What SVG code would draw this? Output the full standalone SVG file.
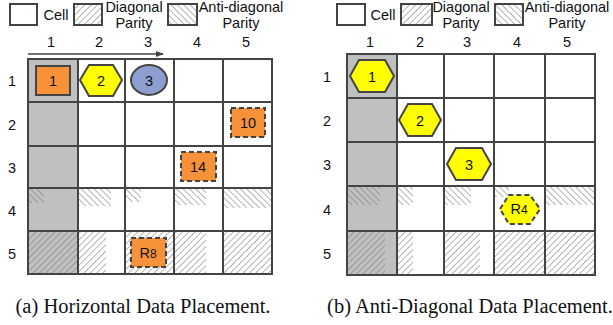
<svg xmlns="http://www.w3.org/2000/svg" width="613" height="325" viewBox="0 0 613 325">
<style>
.t{font-family:"Liberation Sans",Arial,sans-serif;font-size:14.5px;fill:#111;text-anchor:middle}
.n{font-family:"Liberation Sans",Arial,sans-serif;font-size:14.5px;fill:#111;text-anchor:middle}
.cap{font-family:"Liberation Serif","Times New Roman",serif;font-size:20.5px;fill:#111;text-anchor:middle}
.grid{fill:none;stroke:#444;stroke-width:2}
.cell{fill:#fff;stroke:#444;stroke-width:2}
.gray{fill:#c0c0c0}
.org{fill:#f7923a;stroke:#444;stroke-width:2}
.orgd{fill:#f7923a;stroke:#444;stroke-width:2;stroke-dasharray:5 3}
.hex{fill:#ffff00;stroke:#444;stroke-width:2}
.hexd{fill:#ffff00;stroke:#444;stroke-width:2;stroke-dasharray:5 3}
.dp{fill:url(#diag)}
.ap{fill:url(#anti)}
</style>
<defs>
<pattern id="diag" patternUnits="userSpaceOnUse" width="4.5" height="5" patternTransform="rotate(45)">
<line x1="0" y1="0" x2="0" y2="5" stroke="#777" stroke-width="1.1"/>
</pattern>
<pattern id="anti" patternUnits="userSpaceOnUse" width="4.5" height="5" patternTransform="rotate(-45)">
<line x1="0" y1="0" x2="0" y2="5" stroke="#777" stroke-width="1.1"/>
</pattern>
<marker id="arr" markerWidth="8" markerHeight="8" refX="7" refY="4" orient="auto" markerUnits="userSpaceOnUse">
<path d="M0,1 L8,4 L0,7 z" fill="#444"/>
</marker>
</defs>

<!-- Legend left -->
<g id="legend-a">
<rect x="10" y="4" width="27" height="21" class="cell"/>
<text x="56" y="20" class="t">Cell</text>
<rect x="74" y="4" width="28" height="21" fill="#fff"/>
<rect x="74" y="4" width="28" height="21" class="dp"/>
<rect x="74" y="4" width="28" height="21" class="grid"/>
<text x="134" y="12" class="t">Diagonal</text>
<text x="134" y="28" class="t">Parity</text>
<rect x="168" y="4" width="29" height="21" fill="#fff"/>
<rect x="168" y="4" width="29" height="21" class="ap"/>
<rect x="168" y="4" width="29" height="21" class="grid"/>
<text x="241" y="12" class="t">Anti-diagonal</text>
<text x="241" y="28" class="t">Parity</text>
</g>

<!-- Legend right -->
<g id="legend-b">
<rect x="337" y="4" width="28" height="21" class="cell"/>
<text x="383" y="20" class="t">Cell</text>
<rect x="401" y="4" width="31" height="21" fill="#fff"/>
<rect x="401" y="4" width="31" height="21" class="dp"/>
<rect x="401" y="4" width="31" height="21" class="grid"/>
<text x="461" y="12" class="t">Diagonal</text>
<text x="461" y="28" class="t">Parity</text>
<rect x="495" y="4" width="28" height="21" fill="#fff"/>
<rect x="495" y="4" width="28" height="21" class="ap"/>
<rect x="495" y="4" width="28" height="21" class="grid"/>
<text x="567" y="12" class="t">Anti-diagonal</text>
<text x="567" y="28" class="t">Parity</text>
</g>

<!-- Grid A -->
<g id="grid-a">
<rect x="28" y="59" width="244" height="215" fill="#fff"/>
<rect x="28" y="59" width="50" height="215" class="gray"/>
<rect x="29" y="189" width="15" height="14" class="ap"/>
<rect x="79" y="189" width="32" height="17" class="ap"/>
<rect x="126" y="189" width="15" height="13" class="ap"/>
<rect x="175" y="189" width="31" height="16" class="ap"/>
<rect x="224" y="189" width="47" height="19" class="ap"/>
<rect x="29" y="232" width="48" height="41" class="dp"/>
<rect x="79" y="232" width="27" height="41" class="dp"/>
<rect x="126" y="232" width="47" height="41" class="dp"/>
<rect x="175" y="232" width="31" height="41" class="dp"/>
<rect x="224" y="232" width="47" height="41" class="dp"/>
<g class="grid">
<rect x="28" y="59" width="244" height="215"/>
<line x1="78" y1="59" x2="78" y2="274"/>
<line x1="125" y1="59" x2="125" y2="274"/>
<line x1="174" y1="59" x2="174" y2="274"/>
<line x1="223" y1="59" x2="223" y2="274"/>
<line x1="28" y1="102" x2="272" y2="102"/>
<line x1="28" y1="146" x2="272" y2="146"/>
<line x1="28" y1="188" x2="272" y2="188"/>
<line x1="28" y1="231" x2="272" y2="231"/>
</g>
</g>

<!-- Grid B -->
<g id="grid-b">
<rect x="347" y="54" width="248" height="221" fill="#fff"/>
<rect x="347" y="54" width="50" height="221" class="gray"/>
<rect x="348" y="187" width="32" height="18" class="ap"/>
<rect x="398" y="187" width="15" height="18" class="ap"/>
<rect x="445" y="187" width="26" height="18" class="ap"/>
<rect x="495" y="187" width="14" height="10" class="ap"/>
<rect x="546" y="187" width="48" height="18" class="ap"/>
<rect x="348" y="232" width="37" height="42" class="dp"/>
<rect x="398" y="232" width="15" height="42" class="dp"/>
<rect x="445" y="232" width="35" height="42" class="dp"/>
<rect x="495" y="232" width="49" height="42" class="dp"/>
<rect x="546" y="232" width="48" height="42" class="dp"/>
<g class="grid">
<rect x="347" y="54" width="248" height="221"/>
<line x1="397" y1="54" x2="397" y2="275"/>
<line x1="444" y1="54" x2="444" y2="275"/>
<line x1="494" y1="54" x2="494" y2="275"/>
<line x1="545" y1="54" x2="545" y2="275"/>
<line x1="347" y1="98" x2="595" y2="98"/>
<line x1="347" y1="142" x2="595" y2="142"/>
<line x1="347" y1="186" x2="595" y2="186"/>
<line x1="347" y1="231" x2="595" y2="231"/>
</g>
</g>

<!-- Labels A -->
<g id="labels-a">
<text x="51" y="47" class="n">1</text>
<text x="99" y="47" class="n">2</text>
<text x="148" y="47" class="n">3</text>
<text x="197" y="47" class="n">4</text>
<text x="246" y="47" class="n">5</text>
<text x="12" y="86" class="n">1</text>
<text x="12" y="130" class="n">2</text>
<text x="12" y="173" class="n">3</text>
<text x="12" y="216" class="n">4</text>
<text x="12" y="259" class="n">5</text>
</g>
<g id="labels-b">
<text x="370" y="47" class="n">1</text>
<text x="420" y="47" class="n">2</text>
<text x="467" y="47" class="n">3</text>
<text x="517" y="47" class="n">4</text>
<text x="567" y="47" class="n">5</text>
<text x="327" y="82" class="n">1</text>
<text x="327" y="126" class="n">2</text>
<text x="327" y="170" class="n">3</text>
<text x="327" y="215" class="n">4</text>
<text x="327" y="259" class="n">5</text>
</g>

<g id="connectors">
<line x1="28" y1="54" x2="163" y2="54" stroke="#444" stroke-width="1.3" marker-end="url(#arr)"/>
</g>

<!-- Nodes A -->
<g id="a-1"><rect x="36" y="66" width="34" height="29" class="org"/><text x="53" y="86" class="n">1</text></g>
<g id="a-2"><polygon points="80,80 89,65 113,65 122,80 113,96 89,96" class="hex"/><text x="101" y="86" class="n">2</text></g>
<g id="a-3"><ellipse cx="149" cy="80" rx="18" ry="15" fill="#8e9fcf" stroke="#444" stroke-width="2"/><text x="149" y="86" class="n">3</text></g>
<g id="a-10"><rect x="231" y="108" width="34" height="29" class="orgd"/><text x="248" y="128" class="n">10</text></g>
<g id="a-14"><rect x="181" y="152" width="35" height="29" class="orgd"/><text x="198" y="172" class="n">14</text></g>
<g id="a-r8"><rect x="131" y="238" width="35" height="29" class="orgd"/><text x="148" y="258" class="n">R<tspan font-size="12">8</tspan></text></g>

<!-- Nodes B -->
<g id="b-1"><polygon points="350,76 359,60 385,60 394,76 385,92 359,92" class="hex"/><text x="372" y="82" class="n">1</text></g>
<g id="b-2"><polygon points="399,120 408,104 432,104 441,120 432,136 408,136" class="hex"/><text x="420" y="126" class="n">2</text></g>
<g id="b-3"><polygon points="447,164 456,148 482,148 491,164 482,180 456,180" class="hex"/><text x="469" y="170" class="n">3</text></g>
<g id="b-r4"><polygon points="500,209 509,195 530,195 540,209 530,224 509,224" class="hexd"/><text x="519" y="214" class="n">R<tspan font-size="12">4</tspan></text></g>

<text x="143" y="313" class="cap">(a) Horizontal Data Placement.</text>
<text x="470" y="313" class="cap">(b) Anti-Diagonal Data Placement.</text>
</svg>
